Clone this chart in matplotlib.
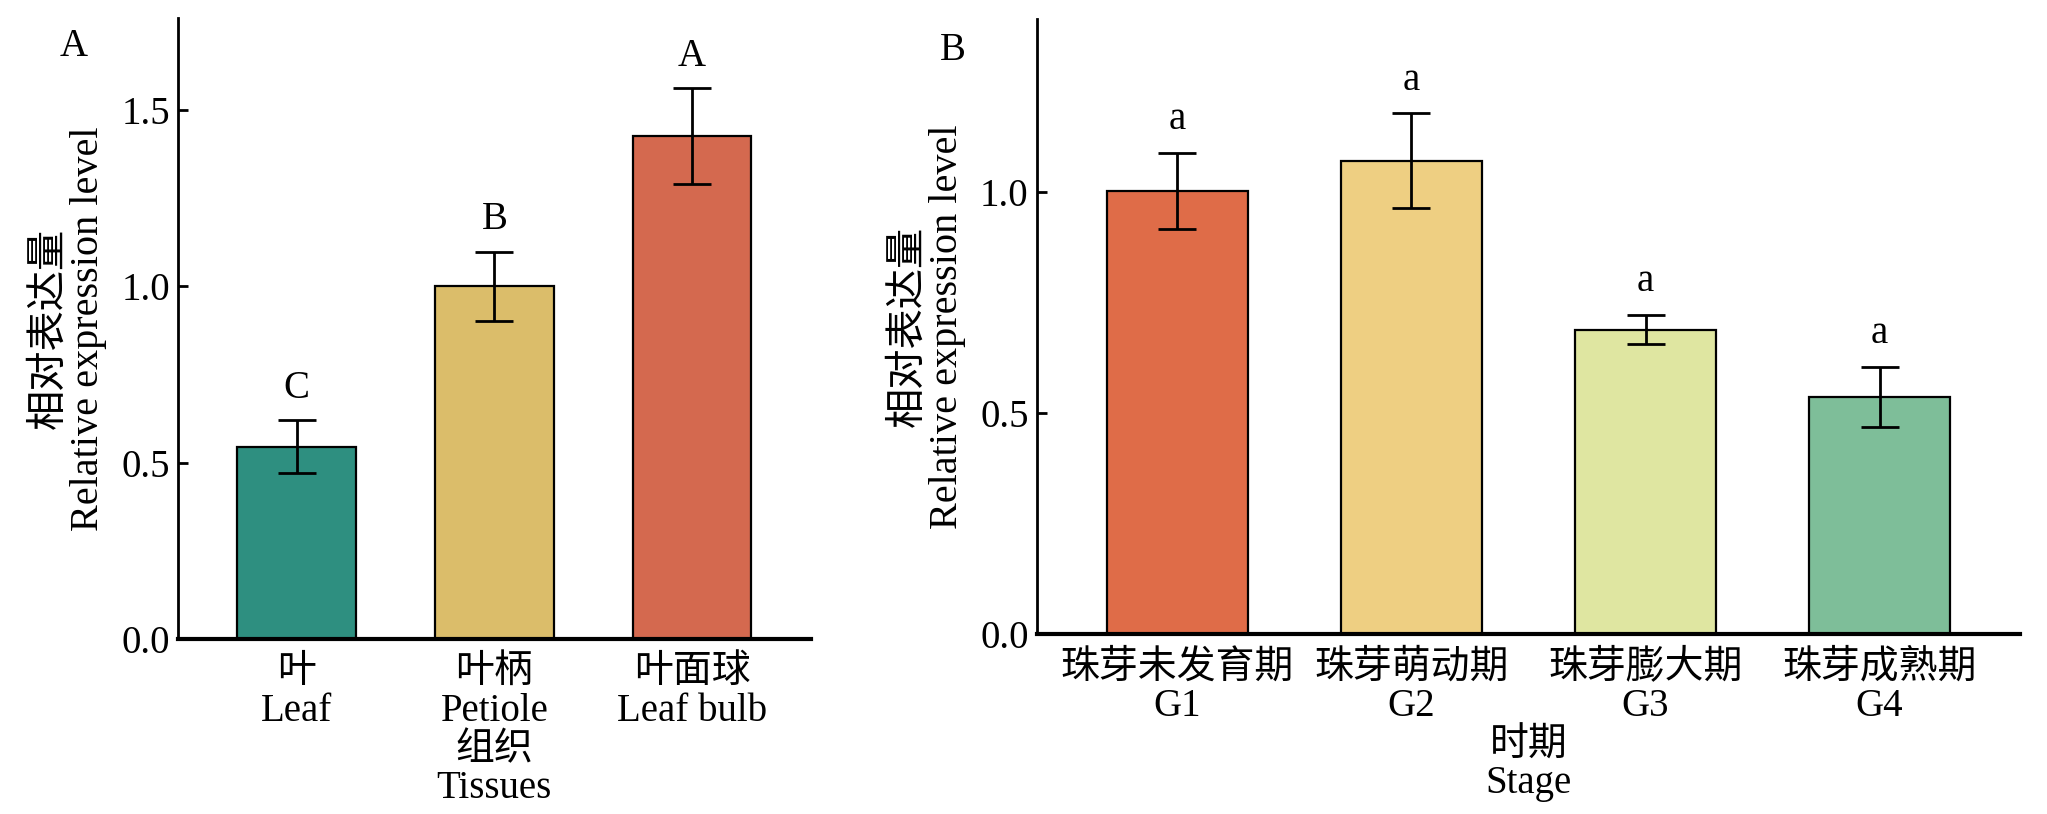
import matplotlib
matplotlib.use('Agg')
import matplotlib.pyplot as plt

plt.rcParams['font.family'] = ['Liberation Serif', 'Noto Sans CJK SC']
plt.rcParams['font.size'] = 28

# Panel A: tissues
tissue_labels = ['叶\nLeaf', '叶柄\nPetiole', '叶面球\nLeaf bulb']
tissue_values = [0.545, 1.0, 1.425]
tissue_errors = [0.075, 0.098, 0.135]
tissue_letters = ['C', 'B', 'A']
tissue_colors = ['#2e8f80', '#dbbd6a', '#d4694f']

# Panel B: stages
stage_labels = ['珠芽未发育期\nG1', '珠芽萌动期\nG2', '珠芽膨大期\nG3', '珠芽成熟期\nG4']
stage_values = [1.002, 1.07, 0.688, 0.536]
stage_errors = [0.086, 0.107, 0.033, 0.068]
stage_letters = ['a', 'a', 'a', 'a']
stage_colors = ['#df6c48', '#eecf82', '#dfe6a1', '#7ebe99']


def draw_panel(ax, labels, values, errors, letters, colors, ylim, yticks, xlabel, gap):
    x = list(range(len(values)))
    ax.bar(x, values, width=0.6, color=colors, edgecolor='black', linewidth=1.6, zorder=2)
    ax.errorbar(x, values, yerr=errors, fmt='none', ecolor='black', elinewidth=2,
                capsize=14, capthick=2, zorder=3)
    for xi, v, e, t in zip(x, values, errors, letters):
        ax.text(xi, v + e + gap, t, ha='center', va='center', fontsize=28)
    ax.set_xlim(-0.6, len(values) - 0.4)
    ax.set_ylim(*ylim)
    ax.set_yticks(yticks)
    ax.set_yticklabels([f'{t:.1f}' for t in yticks])
    ax.set_xticks(x)
    ax.set_xticklabels(labels, linespacing=1.05)
    ax.tick_params(axis='x', length=0, pad=11)
    ax.tick_params(axis='y', direction='in', length=7, width=2, pad=6)
    ax.spines['top'].set_visible(False)
    ax.spines['right'].set_visible(False)
    ax.spines['left'].set_linewidth(2)
    ax.spines['bottom'].set_linewidth(3)
    ax.set_ylabel('相对表达量\nRelative expression level', fontsize=29,
                  linespacing=1.05, labelpad=10)
    ax.set_xlabel(xlabel, linespacing=1.02, labelpad=2)


fig = plt.figure(figsize=(20.47, 8.14), dpi=100)
ax1 = fig.add_axes([0.087, 0.215, 0.309, 0.763])
ax2 = fig.add_axes([0.5066, 0.221, 0.4802, 0.7555])

draw_panel(ax1, tissue_labels, tissue_values, tissue_errors, tissue_letters, tissue_colors,
           (0, 1.76), [0.0, 0.5, 1.0, 1.5], '组织\nTissues', 0.09)
draw_panel(ax2, stage_labels, stage_values, stage_errors, stage_letters, stage_colors,
           (0, 1.39), [0.0, 0.5, 1.0], '时期\nStage', 0.075)

fig.text(74 / 2047, 1 - 47 / 814, 'A', ha='center', va='center', fontsize=28)
fig.text(953 / 2047, 1 - 50 / 814, 'B', ha='center', va='center', fontsize=28)

fig.savefig('out.png', dpi=100)
